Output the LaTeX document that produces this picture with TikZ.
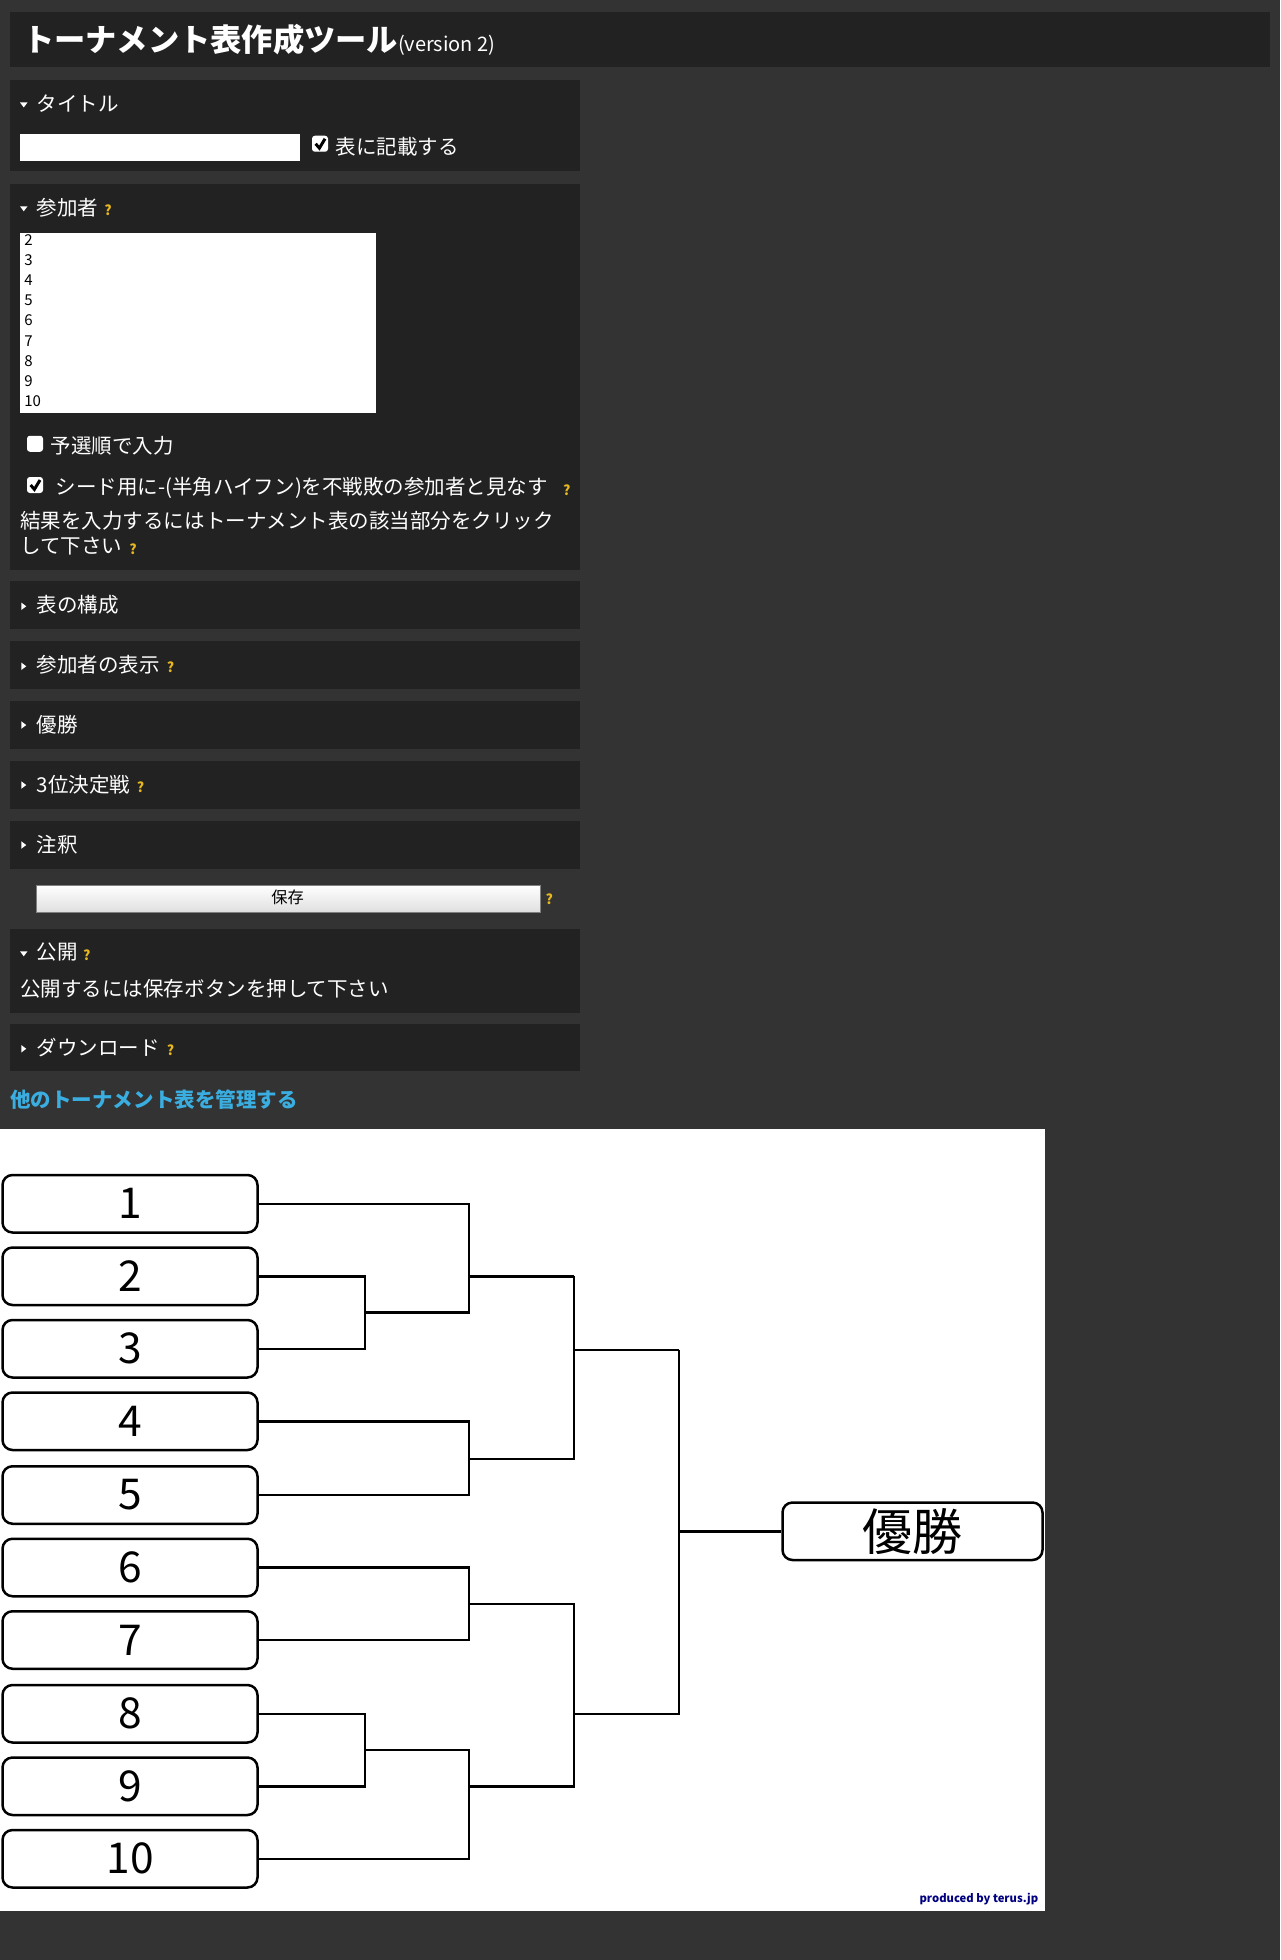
\documentclass[tikz,border=0pt]{standalone}
\usepackage{fontspec}
\newfontfamily\jp{Noto Sans CJK JP}
\newcommand\myfs[1]{\fontsize{#1}{#1}\selectfont}
\definecolor{bgc}{HTML}{333333}
\definecolor{panel}{HTML}{222222}
\definecolor{qc}{HTML}{E8B820}
\definecolor{linkc}{HTML}{3AAEE0}
\tikzset{
 lbl/.style={anchor=west,inner sep=0,text=white,font=\jp\myfs{8.2}},
 q/.style={anchor=west,inner sep=0,text=qc,font=\jp\bfseries\myfs{5.5}},
 pbox/.style={fill=panel},
 team/.style={draw,line width=1pt,rounded corners=4pt,minimum width=102pt,minimum height=23pt,font=\jp\myfs{17},inner sep=0},
 br/.style={line width=1pt},
 tri/.style={fill=white},
 num/.style={anchor=west,inner sep=0,font=\jp\myfs{6}}
}
\begin{document}
\begin{tikzpicture}[x=0.5pt,y=-0.5pt]
\fill[bgc] (0,0) rectangle (1024,1568);
\useasboundingbox (0,0) rectangle (1024,1568);
\fill[panel] (8,10) rectangle (1016,54);
\node[anchor=west,inner sep=0,text=white,font=\jp\bfseries\myfs{12.5}] (title) at (18,32) {トーナメント表作成ツール{\mdseries\myfs{8}(version 2)}};
% panels
\foreach \a/\b in {64/137,147/456,465/503,513/551,561/599,609/647,657/695,743/810,819/857}{\fill[pbox] (8,\a) rectangle (464,\b);}
% open triangles
\foreach \y in {84,167,763}{\fill[tri] (16,\y-2) -- (22,\y-2) -- (19,\y+2) -- cycle;}
\foreach \y in {485,533,580,628,676,839}{\fill[tri] (17,\y-3) -- (17,\y+3) -- (21,\y) -- cycle;}
\node[lbl] (t1) at (29,83) {タイトル};
\fill[white] (16,107) rectangle (240,129);
\draw[white,fill=white,rounded corners=1pt] (250,109) rectangle (262,121);
\draw[black,line width=1.2pt] (252.5,115) -- (255.5,118.5) -- (260,111);
\node[lbl] (t2) at (268,117) {表に記載する};
\node[lbl] (t3) at (29,166) {参加者};
\node[q] (q1) at (83,168) {?};
\fill[white] (16,186) rectangle (301,330);
\foreach \n [count=\i] in {2,...,10}{\node[num] (n\n) at (19,176+\i*16.1) {\n};}
\draw[white,fill=white,rounded corners=1pt] (22,349) rectangle (34,361);
\node[lbl] (t4) at (40,357) {予選順で入力};
\draw[white,fill=white,rounded corners=1pt] (22,382) rectangle (34,394);
\draw[black,line width=1.2pt] (24.5,388) -- (27.5,391.5) -- (32,384);
\node[lbl] (t5) at (44,390) {シード用に-(半角ハイフン)を不戦敗の参加者と見なす};
\node[q] (q2) at (450,392) {?};
\node[lbl] (t6) at (16,417) {結果を入力するにはトーナメント表の該当部分をクリック};
\node[lbl] (t7) at (16,437) {して下さい};
\node[q] (q3) at (103,439) {?};
\node[lbl] (t8) at (29,484) {表の構成};
\node[lbl] (t9) at (29,532) {参加者の表示};
\node[q] (q4) at (133,534) {?};
\node[lbl] (t10) at (29,580) {優勝};
\node[lbl] (t11) at (29,628) {3位決定戦};
\node[q] (q5) at (109,630) {?};
\node[lbl] (t12) at (29,676) {注釈};
\shade[top color=white,bottom color=gray!25,draw=gray] (29,708) rectangle (432,730);
\node[inner sep=0,font=\jp\myfs{6.5}] (save) at (230,718) {保存};
\node[q] (q6) at (436,719) {?};
\node[lbl] (t13) at (29,762) {公開};
\node[q] (q7) at (66,764) {?};
\node[lbl] (t14) at (16,791) {公開するには保存ボタンを押して下さい};
\node[lbl] (t15) at (29,838) {ダウンロード};
\node[q] (q8) at (133,840) {?};
\node[lbl,text=linkc,font=\jp\bfseries\myfs{8.2}] (link) at (8,880) {他のトーナメント表を管理する};
% bracket area
\fill[white] (0,903) rectangle (836,1529);
\foreach \n/\y in {1/963,2/1021,3/1079,4/1137,5/1196,6/1254,7/1312,8/1371,9/1429,10/1487}{
 \node[team,fill=white] (p\n) at (104,\y) {\n};}
\node[team,minimum width=104pt,font=\jp\myfs{20}] (win) at (730,1225) {優勝};
\draw[br] (p2.east) -- (292,1021) |- (p3.east);
\draw[br] (292,1050) -- (375,1050) |- (p1.east);
\draw[br] (375,1021) -- (459,1021);
\draw[br] (p4.east) -| (375,1196) -- (p5.east);
\draw[br] (375,1167) -- (459,1167) -- (459,1021);
\draw[br] (459,1080) -- (543,1080);
\draw[br] (p6.east) -| (375,1312) -- (p7.east);
\draw[br] (p8.east) -| (292,1429) -- (p9.east);
\draw[br] (292,1400) -- (375,1400) |- (p10.east);
\draw[br] (375,1283) -- (459,1283) |- (375,1429);
\draw[br] (459,1371) -- (543,1371) -- (543,1080);
\draw[br] (543,1225) -- (win.west);
\node[anchor=east,inner sep=0,text=blue!50!black,font=\jp\bfseries\myfs{4.5}] (prod) at (831,1519) {produced by terus.jp};
\end{tikzpicture}
\end{document}
